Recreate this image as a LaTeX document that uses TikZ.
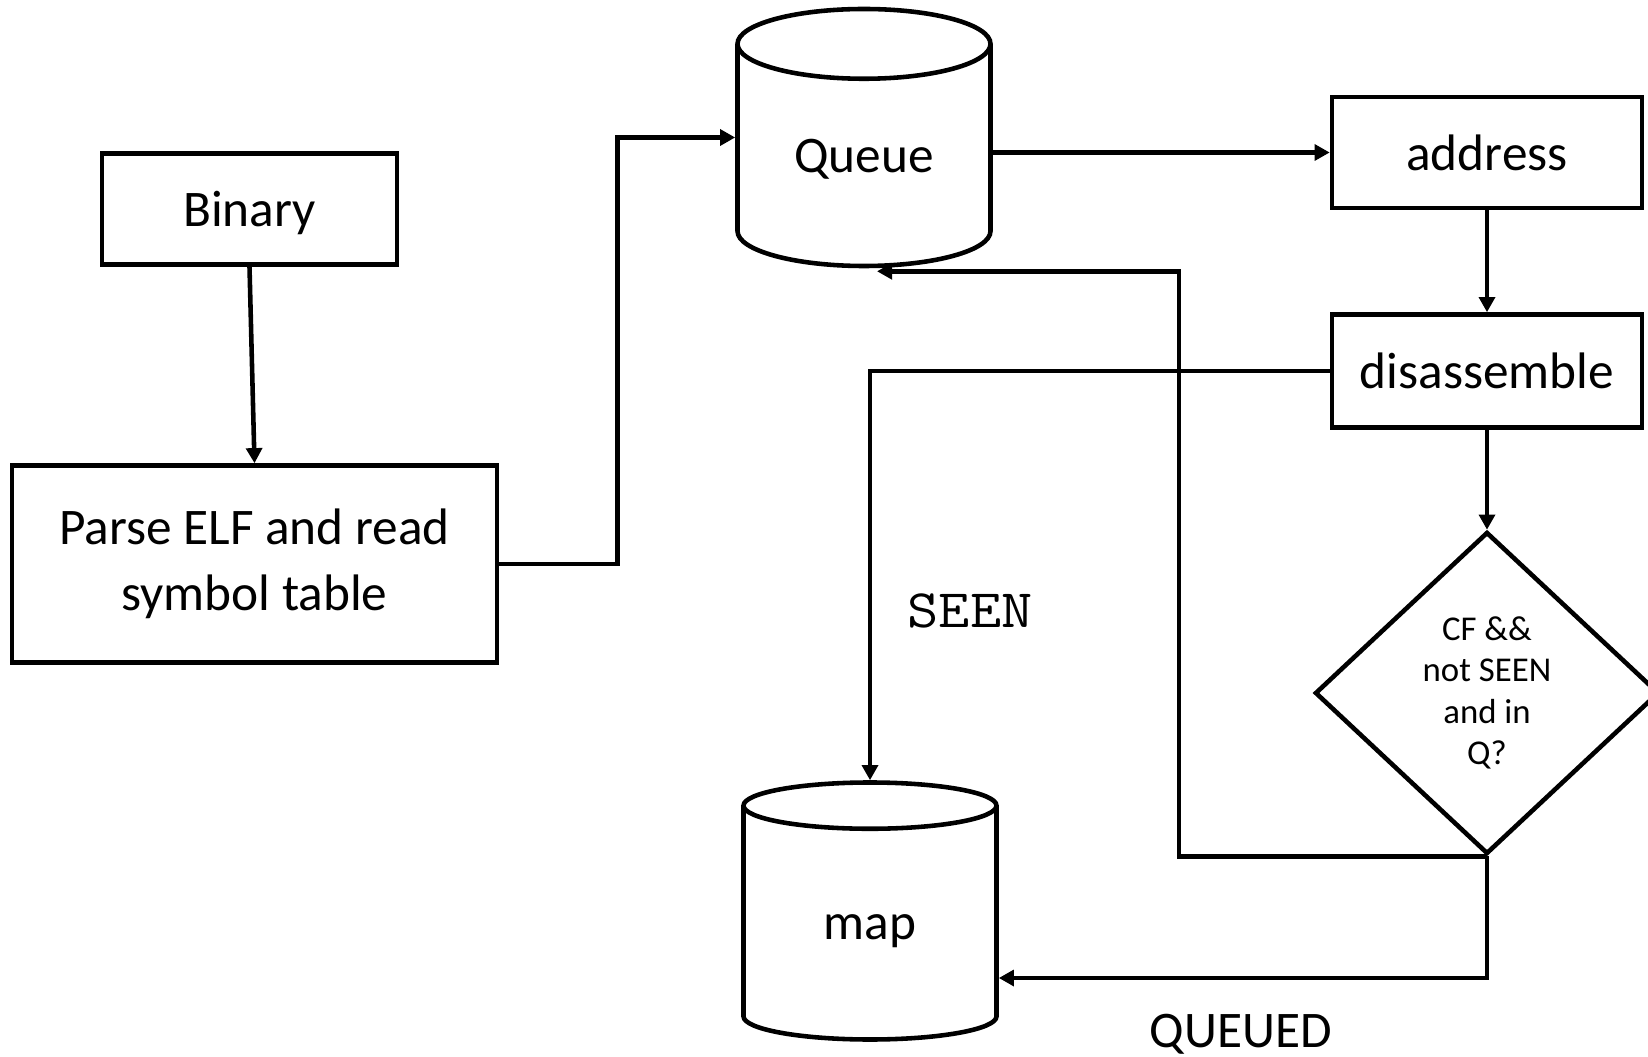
\documentclass[tikz,border=0pt]{standalone}
\usepackage{fontspec}
\setmainfont{Carlito}
\usetikzlibrary{arrows.meta, shapes.geometric}

\begin{document}
\begin{tikzpicture}[
    line width=1.3pt,
    every node/.style={font=\fontsize{14.6}{18.6}\selectfont, align=center},
    box/.style={draw, rectangle, inner sep=0pt},
    store/.style={draw, cylinder, shape border rotate=90, aspect=0.5,
                  anchor=shape center, minimum width=2.53cm, minimum height=2.57cm,
                  text height=0.42cm, text depth=0.1cm, inner sep=0pt},
    test/.style={draw, diamond, minimum width=3.44cm, minimum height=3.22cm,
                 inner sep=0pt, font=\fontsize{9.9}{11.8}\selectfont},
    flow/.style={-{Triangle[length=4.3pt, width=4.5pt]}}
]
\useasboundingbox (0,0) rectangle (16.48,-10.57);

\node[box, minimum width=2.95cm, minimum height=1.11cm, text depth=0pt] (binary) at (2.495,-2.09) {Binary};
\node[box, minimum width=4.85cm, minimum height=1.97cm] (parse) at (2.545,-5.64) {Parse ELF and read\\symbol table};
\node[store] (queue) at (8.64,-1.375) {Queue};
\node[box, minimum width=3.10cm, minimum height=1.11cm] (address) at (14.87,-1.525) {address};
\node[box, minimum width=3.10cm, minimum height=1.13cm] (disasm) at (14.87,-3.71) {disassemble};
\node[test] (dec) at (14.87,-6.93) {CF \&\&\\not SEEN\\and in\\Q?};
\node[store] (map) at (8.70,-9.11) {map};

\node[font=\ttfamily\fontsize{15.4}{18}\selectfont] (seen) at (9.70,-6.11) {\scalebox{1.12}[1]{SEEN}};
\node (queued) at (12.41,-10.34) {QUEUED};

% entry points on the cylinder sides
\coordinate (qin) at (queue.shape center);
\coordinate (mapin) at ([yshift=-6.7mm]map.shape center);

\draw[flow] (binary.south) -- (parse.north);
\draw[flow] (parse.east) -- ++(1.18,0) |- (qin -| queue.west);
\draw[flow] (queue.east |- address.west) -- (address.west);
\draw[flow] (address.south) -- (disasm.north);
\draw[flow] (disasm.south) -- (dec.north);
\draw[flow] (disasm.west) -| (map.north);
\draw[flow] (dec.south) -- ++(-3.08,0) |- ([xshift=1.3mm, yshift=-0.3mm]queue.south);
\draw[flow] (dec.south) |- (mapin -| map.east);
\end{tikzpicture}
\end{document}
